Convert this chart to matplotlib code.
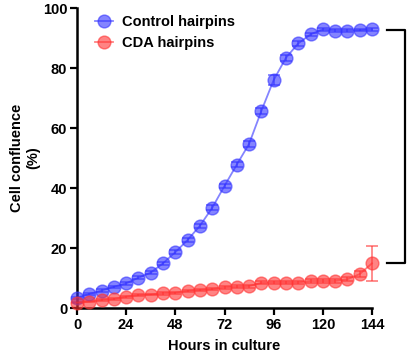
import matplotlib
matplotlib.use('Agg')
import matplotlib.pyplot as plt

hours = [0, 6, 12, 18, 24, 30, 36, 42, 48, 54, 60, 66, 72, 78, 84, 90, 96,
         102, 108, 114, 120, 126, 132, 138, 144]
control = [3.4, 4.7, 5.8, 7.1, 8.2, 10.1, 11.8, 14.9, 18.6, 22.7, 27.4, 33.4,
           40.7, 47.8, 54.7, 65.7, 76.0, 83.4, 88.2, 91.2, 92.9, 92.5, 92.5,
           92.6, 92.9]
control_err = [0.3, 0.3, 0.4, 0.4, 0.4, 0.5, 0.5, 0.6, 0.6, 0.7, 0.7, 0.8,
               0.8, 0.9, 0.9, 1.0, 1.6, 1.0, 0.8, 0.6, 0.5, 0.4, 0.4, 0.4, 0.4]
cda = [1.8, 2.1, 2.7, 3.0, 3.8, 4.3, 4.5, 4.9, 5.1, 5.7, 6.0, 6.3, 6.9, 7.1,
       7.3, 8.4, 8.5, 8.5, 8.5, 9.0, 9.0, 9.0, 9.6, 11.3, 14.9]
cda_err = [0.2, 0.2, 0.3, 0.3, 0.3, 0.3, 0.3, 0.4, 0.4, 0.4, 0.4, 0.4, 0.5,
           0.5, 0.5, 0.5, 0.5, 0.5, 0.5, 0.6, 0.6, 0.6, 0.7, 1.0, 5.8]
xticks = [0, 24, 48, 72, 96, 120, 144]
yticks = [0, 20, 40, 60, 80, 100]

plt.rcParams['font.family'] = ['Liberation Sans', 'DejaVu Sans']
plt.rcParams['font.weight'] = 'bold'

fig = plt.figure(figsize=(4.07, 3.57), dpi=100)
ax = fig.add_axes([77 / 407, 49 / 357, 295 / 407, 300 / 357])

series = [
    (control, control_err, '#3333ff', 'Control hairpins'),
    (cda, cda_err, '#ff3333', 'CDA hairpins'),
]
for vals, errs, col, name in series:
    # error bars first, then line + markers (legend shows only the marker)
    ax.errorbar(hours, vals, yerr=errs, fmt='none', ecolor=col, alpha=0.6,
                capsize=4, elinewidth=1.3, capthick=1.3, clip_on=False,
                zorder=2)
    ax.plot(hours, vals, color=col, alpha=0.6, lw=1.3, marker='o', ms=9.2,
            mfc=col, mec=col, mew=1.0, label=name, clip_on=False, zorder=3)

ax.set_xlim(0, 144)
ax.set_ylim(0, 100)
ax.set_xticks(xticks)
ax.set_yticks(yticks)
ax.spines['top'].set_visible(False)
ax.spines['right'].set_visible(False)
for s in ['left', 'bottom']:
    ax.spines[s].set_linewidth(1.8)
ax.tick_params(direction='out', length=5, width=1.6, labelsize=10.5, pad=2)
for lab in ax.get_xticklabels() + ax.get_yticklabels():
    lab.set_fontweight('bold')

ax.set_xlabel('Hours in culture', fontsize=10.5, fontweight='bold', labelpad=5)
ax.set_ylabel('Cell confluence\n(%)', fontsize=10.5, fontweight='bold',
              linespacing=1.2)
ax.yaxis.set_label_coords(-0.125, 0.5)

leg = ax.legend(loc='upper left', frameon=False, fontsize=10.5,
                bbox_to_anchor=(0.018, 1.02), handletextpad=0.6,
                labelspacing=0.45, handlelength=1.2)
for t in leg.get_texts():
    t.set_fontweight('bold')

# significance bracket on the right
fig.lines.append(plt.Line2D([387 / 407, 405 / 407, 405 / 407, 387 / 407],
                            [1 - 29.5 / 357, 1 - 29.5 / 357,
                             1 - 262.7 / 357, 1 - 262.7 / 357],
                            transform=fig.transFigure, color='black', lw=1.6))

fig.savefig('out.png', dpi=100)
